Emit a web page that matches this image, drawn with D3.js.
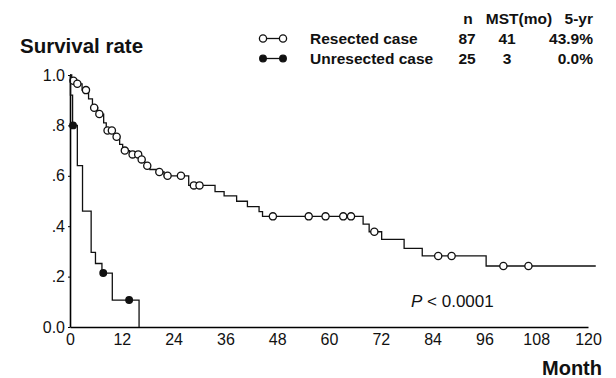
<!DOCTYPE html>
<html lang="en">
<head>
<meta charset="UTF-8">
<title>Survival rate</title>
<style>
    body { margin: 0; background: #fff; }
    svg { display: block; font-family: "Liberation Sans", Arial, sans-serif; }
</style>
</head>
<body>
<svg id="chart"></svg>
<script src="https://cdn.jsdelivr.net/npm/d3@7"></script>
<script>
// step points: [month, survival after the drop]
const resectedSteps = [
    [0, 1.0], [0.4, 0.977], [1.3, 0.965], [2.8, 0.94], [4.3, 0.905], [5.2, 0.87],
    [6.4, 0.845], [7.8, 0.81], [8.4, 0.78], [10.2, 0.755], [11.5, 0.725], [12.2, 0.70],
    [13.8, 0.685], [16.2, 0.665], [17.3, 0.64], [18.5, 0.625], [20.0, 0.615], [21.8, 0.60],
    [27.5, 0.562], [33.6, 0.537], [35.7, 0.520], [38.6, 0.499], [41.1, 0.478], [43.8, 0.458],
    [44.6, 0.439], [67.9, 0.408], [69.3, 0.378], [72.2, 0.348], [77.4, 0.312], [81.6, 0.282],
    [96.4, 0.242]
];
const resectedEnd = 121.8;
const resectedCensored = [0.8, 1.7, 3.7, 5.6, 6.8, 8.7, 9.7, 10.8, 12.7, 14.5, 15.8, 16.6, 17.9,
    20.7, 22.6, 25.7, 28.7, 30.0, 47.0, 55.3, 59.2, 63.3, 65.1, 70.5, 85.3, 88.4, 100.4, 106.2];

const unresectedSteps = [
    [0, 1.0], [0.1, 0.92], [0.6, 0.80], [1.7, 0.64], [2.9, 0.46], [4.9, 0.296],
    [5.9, 0.252], [7.4, 0.214], [9.8, 0.107], [16.0, 0.0]
];
const unresectedEnd = 16.0;
const unresectedCensored = [0.7, 7.7, 13.7];

const xTicks = [0, 12, 24, 36, 48, 60, 72, 84, 96, 108, 120];
const yTicks = [0, 0.2, 0.4, 0.6, 0.8, 1.0];
const yTickLabels = ["0.0", ".2", ".4", ".6", ".8", "1.0"];

const legendHeader = ["n", "MST(mo)", "5-yr"];
const legendNames = ["Resected case", "Unresected case"];
const legendN = ["87", "25"];
const legendMST = ["41", "3"];
const legend5yr = ["43.9%", "0.0%"];

const width = 616, height = 378;
const svg = d3.select("#chart").attr("width", width).attr("height", height);

const x = d3.scaleLinear().domain([0, 120]).range([70, 588]);
const y = d3.scaleLinear().domain([0, 1]).range([327, 75]);

// axes
svg.append("g")
    .attr("transform", `translate(0,${y(0)})`)
    .call(d3.axisBottom(x).tickValues(xTicks).tickSize(0).tickPadding(7).tickSizeOuter(0))
    .call(g => g.select(".domain").attr("stroke-width", 1.6))
    .call(g => g.selectAll("text").attr("font-size", 16).attr("fill", "#111"));

svg.append("g")
    .attr("transform", `translate(${x(0)},0)`)
    .call(d3.axisLeft(y).tickValues(yTicks).tickFormat((d, i) => yTickLabels[i])
        .tickSize(2).tickPadding(3).tickSizeOuter(0))
    .call(g => g.select(".domain").attr("stroke-width", 1.6))
    .call(g => g.selectAll("text").attr("font-size", 16).attr("fill", "#111"));

svg.append("text").attr("x", 20).attr("y", 53)
    .attr("font-size", 20.5).attr("font-weight", "bold").attr("fill", "#111")
    .text("Survival rate");

svg.append("text").attr("x", 602).attr("y", 375).attr("text-anchor", "end")
    .attr("font-size", 20).attr("font-weight", "bold").attr("fill", "#111")
    .text("Month");

// step function helpers
const stepLine = d3.line().x(d => x(d[0])).y(d => y(d[1])).curve(d3.curveStepAfter);
const survAt = (steps, t) => {
    let s = steps[0][1];
    for (const p of steps) if (p[0] <= t) s = p[1];
    return s;
};

function drawCurve(steps, end, censored, filled) {
    const pts = steps.concat([[end, steps[steps.length - 1][1]]]);
    svg.append("path").datum(pts)
        .attr("d", stepLine)
        .attr("fill", "none").attr("stroke", "#111").attr("stroke-width", 1.3);
    svg.append("g").selectAll("circle")
        .data(censored)
        .join("circle")
        .attr("cx", d => x(d))
        .attr("cy", d => y(survAt(steps, d)))
        .attr("r", filled ? 3.3 : 3.6)
        .attr("fill", filled ? "#111" : "#fff")
        .attr("stroke", "#111").attr("stroke-width", 1.3);
}

drawCurve(resectedSteps, resectedEnd, resectedCensored, false);
drawCurve(unresectedSteps, unresectedEnd, unresectedCensored, true);

// P value
const pText = svg.append("text").attr("x", 411).attr("y", 307)
    .attr("font-size", 17).attr("fill", "#111");
pText.append("tspan").attr("font-style", "italic").text("P");
pText.append("tspan").text(" < 0.0001");

// legend
const lg = svg.append("g").attr("font-weight", "bold").attr("font-size", 15.5).attr("fill", "#111");
const colX = [468, 519, 593];
const colAnchor = ["middle", "middle", "end"];
lg.selectAll(".hdr").data(legendHeader).join("text")
    .attr("x", (d, i) => colX[i]).attr("y", 24)
    .attr("text-anchor", (d, i) => colAnchor[i]).text(d => d);

legendNames.forEach((name, i) => {
    const yy = 38.5 + i * 20;
    const filled = i === 1;
    lg.append("line").attr("x1", 263).attr("x2", 283).attr("y1", yy).attr("y2", yy)
        .attr("stroke", "#111").attr("stroke-width", 1.3);
    [263, 283].forEach(cx => lg.append("circle").attr("cx", cx).attr("cy", yy)
        .attr("r", filled ? 3.3 : 3.6)
        .attr("fill", filled ? "#111" : "#fff").attr("stroke", "#111").attr("stroke-width", 1.3));
    lg.append("text").attr("x", 310).attr("y", yy + 5).text(name);
    lg.append("text").attr("x", 467).attr("y", yy + 5).attr("text-anchor", "middle").text(legendN[i]);
    lg.append("text").attr("x", 507).attr("y", yy + 5).attr("text-anchor", "middle").text(legendMST[i]);
    lg.append("text").attr("x", 593).attr("y", yy + 5).attr("text-anchor", "end").text(legend5yr[i]);
});
</script>
</body>
</html>
